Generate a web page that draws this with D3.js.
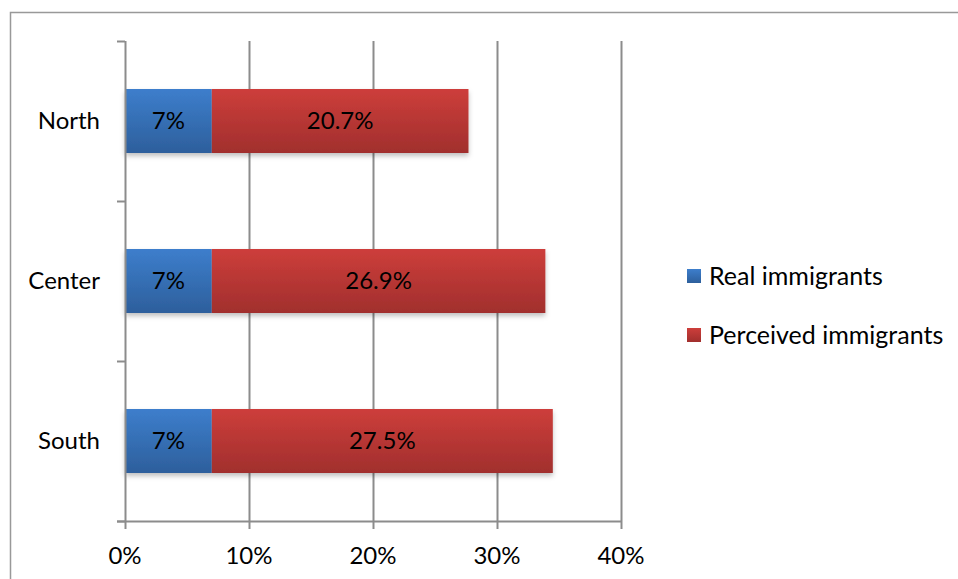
<!DOCTYPE html>
<html><head><meta charset="utf-8">
<script src="https://cdn.jsdelivr.net/npm/d3@7"></script>
<style>body{margin:0;background:#fff;}svg{display:block;font-family:Lato,"Open Sans",sans-serif;}</style>
</head><body>
<script>
const categories = ["North", "Center", "South"];
const realValues = [7, 7, 7];
const perceivedValues = [20.7, 26.9, 27.5];
const realLabels = ["7%", "7%", "7%"];
const perceivedLabels = ["20.7%", "26.9%", "27.5%"];
const xTicks = [0, 10, 20, 30, 40];
const seriesNames = ["Real immigrants", "Perceived immigrants"];

const W = 958, H = 579;
const FS = 24;
const svg = d3.select("body").append("svg").attr("width", W).attr("height", H);
const defs = svg.append("defs");
function grad(id, c1, c2) {
  const g = defs.append("linearGradient").attr("id", id).attr("x1", 0).attr("y1", 0).attr("x2", 0).attr("y2", 1);
  g.append("stop").attr("offset", "0%").attr("stop-color", c1);
  g.append("stop").attr("offset", "100%").attr("stop-color", c2);
}
grad("gBlue", "#3d7ecc", "#2d5f9c");
grad("gRed", "#cd3e3b", "#a12f2d");
const f = defs.append("filter").attr("id", "shadow").attr("x", "-5%").attr("y", "-20%").attr("width", "110%").attr("height", "160%");
f.append("feDropShadow").attr("dx", 0).attr("dy", 3).attr("stdDeviation", 2.5).attr("flood-color", "#000").attr("flood-opacity", 0.25);

// frame
svg.append("path").attr("d", `M10.5,${H+5} V12.5 H${W+5}`).attr("fill", "none").attr("stroke", "#999").attr("stroke-width", 1.5);

const x = d3.scaleLinear().domain([0, 40]).range([125, 621]);
const y = d3.scaleBand().domain(categories).range([41, 521]).paddingInner(0.6).paddingOuter(0.3);
const yb = d3.scaleBand().domain(categories).range([41, 521]);

// gridlines
svg.append("g").selectAll("line").data(xTicks.slice(1)).join("line")
  .attr("x1", d => Math.round(x(d)) + 0.5).attr("x2", d => Math.round(x(d)) + 0.5)
  .attr("y1", 41).attr("y2", 521).attr("stroke", "#8c8c8c").attr("stroke-width", 2);

// bars
const data = categories.map((c, i) => ({c, r: realValues[i], p: perceivedValues[i], rl: realLabels[i], pl: perceivedLabels[i]}));
const bars = svg.append("g");
bars.selectAll("g").data(data).join("g").each(function(d) {
  const g = d3.select(this).attr("filter", "url(#shadow)");
  g.append("rect").attr("x", x(0)).attr("y", y(d.c)).attr("width", x(d.r) - x(0)).attr("height", y.bandwidth()).attr("fill", "url(#gBlue)");
  g.append("rect").attr("x", x(d.r)).attr("y", y(d.c)).attr("width", x(d.r + d.p) - x(d.r)).attr("height", y.bandwidth()).attr("fill", "url(#gRed)");
});
const labels = svg.append("g").attr("font-size", FS).attr("fill", "#000").attr("text-anchor", "middle");
data.forEach(d => {
  labels.append("text").attr("x", (x(0) + x(d.r)) / 2).attr("y", y(d.c) + y.bandwidth() / 2).attr("dy", "0.35em").text(d.rl);
  labels.append("text").attr("x", (x(d.r) + x(d.r + d.p)) / 2).attr("y", y(d.c) + y.bandwidth() / 2).attr("dy", "0.35em").text(d.pl);
});

// axes
const ax = svg.append("g").attr("stroke", "#8c8c8c").attr("stroke-width", 2);
ax.append("line").attr("x1", 125.5).attr("x2", 125.5).attr("y1", 41).attr("y2", 522);
ax.append("line").attr("x1", 117).attr("x2", 622).attr("y1", 521.5).attr("y2", 521.5);
ax.selectAll(".yt").data([41, ...categories.map(c => yb(c) + yb.bandwidth())]).join("line")
  .attr("x1", 117).attr("x2", 125).attr("y1", d => Math.round(d) + 0.5).attr("y2", d => Math.round(d) + 0.5);
ax.selectAll(".xt").data(xTicks).join("line")
  .attr("x1", d => Math.round(x(d)) + 0.5).attr("x2", d => Math.round(x(d)) + 0.5).attr("y1", 521).attr("y2", 529);

svg.append("g").attr("font-size", FS).attr("text-anchor", "middle").selectAll("text").data(xTicks).join("text")
  .attr("x", d => x(d)).attr("y", 556).attr("dy", "0.35em").text(d => d + "%");
svg.append("g").attr("font-size", FS).attr("text-anchor", "end").selectAll("text").data(categories).join("text")
  .attr("x", 100).attr("y", d => yb(d) + yb.bandwidth() / 2).attr("dy", "0.35em").text(d => d);

// legend
const lg = svg.append("g").attr("font-size", 25);
seriesNames.forEach((s, i) => {
  const yy = 276 + i * 59;
  lg.append("rect").attr("x", 687).attr("y", yy - 7).attr("width", 14).attr("height", 14).attr("fill", i === 0 ? "url(#gBlue)" : "url(#gRed)");
  lg.append("text").attr("x", 709).attr("y", yy).attr("dy", "0.35em").text(s);
});
</script>
</body></html>
